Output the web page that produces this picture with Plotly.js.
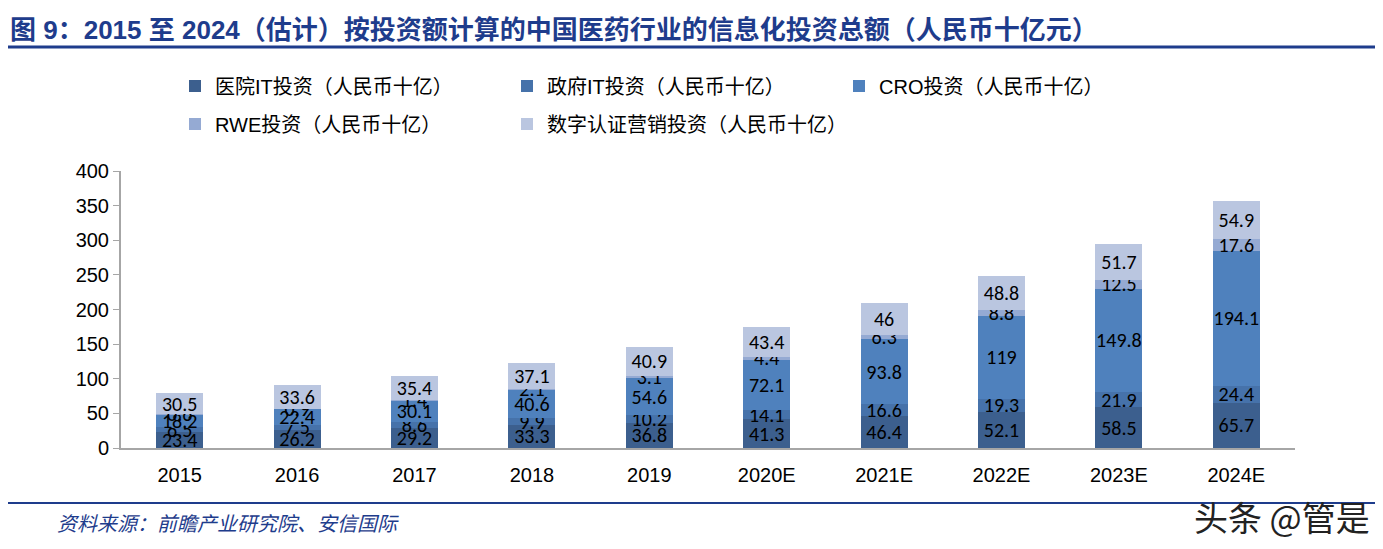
<!DOCTYPE html>
<html>
<head>
<meta charset="utf-8">
<script src="https://cdn.plot.ly/plotly-3.0.1.min.js"></script>
<style>html,body{margin:0;padding:0;background:#fff;}#chart{width:1383px;height:549px;}</style>
</head>
<body>
<div id="chart"></div>
<script>
const years = ['2015','2016','2017','2018','2019','2020E','2021E','2022E','2023E','2024E'];
const hospitalIT = [23.4, 26.2, 29.2, 33.3, 36.8, 41.3, 46.4, 52.1, 58.5, 65.7];
const governmentIT = [6.5, 7.5, 8.6, 9.9, 10.2, 14.1, 16.6, 19.3, 21.9, 24.4];
const cro = [18.2, 22.4, 30.1, 40.6, 54.6, 72.1, 93.8, 119, 149.8, 194.1];
const rwe = [0.6, 0.9, 1.4, 2.1, 3.1, 4.4, 6.3, 8.8, 12.5, 17.6];
const digitalMarketing = [30.5, 33.6, 35.4, 37.1, 40.9, 43.4, 46, 48.8, 51.7, 54.9];
const seriesNames = ['医院IT投资（人民币十亿）','政府IT投资（人民币十亿）','CRO投资（人民币十亿）','RWE投资（人民币十亿）','数字认证营销投资（人民币十亿）'];
const seriesValues = [hospitalIT, governmentIT, cro, rwe, digitalMarketing];
const colors = ['#3C5F8E','#4672AA','#4F81BD','#95AAD3','#BAC6E0'];
const legendOf = ['legend','legend','legend','legend2','legend2'];

const labelFont = {family:'Carlito, Lato, "Noto Sans", sans-serif', size:20, color:'#000'};
const traces = seriesValues.map((vals, i) => ({
  type:'bar', name:seriesNames[i], x:years, y:vals, legend:legendOf[i],
  marker:{color:colors[i]},
  text: vals.map(v => String(v)), textposition:'inside', insidetextanchor:'middle',
  constraintext:'none', textangle:0, textfont:labelFont, hoverinfo:'none', cliponaxis:false
}));

const L = 121, R = 1295, T = 171, B = 448;
const px = x => (x - L) / (R - L);
const py = y => (B - y) / (B - T);

const legendFont = {family:'"Liberation Sans", "Noto Sans CJK SC", sans-serif', size:20, color:'#000'};
const legendCommon = {orientation:'h', xref:'container', yref:'container', xanchor:'left', yanchor:'middle',
  entrywidth:287, entrywidthmode:'pixels', traceorder:'normal', itemwidth:30, font:legendFont,
  itemclick:false, itemdoubleclick:false, bgcolor:'rgba(0,0,0,0)'};

const layout = {
  width:1383, height:549,
  margin:{l:L, r:1383-R, t:T, b:549-B},
  paper_bgcolor:'#fff', plot_bgcolor:'#fff',
  barmode:'stack', bargap:0.6,
  showlegend:true,
  font:{family:'"Liberation Sans", Arial, "Noto Sans CJK SC", sans-serif', color:'#000'},
  title:{text:'图 9：2015 至 2024（估计）按投资额计算的中国医药行业的信息化投资总额（人民币十亿元）',
    xref:'container', yref:'container', x:10/1383, xanchor:'left', y:1-30/549, yanchor:'middle',
    font:{family:'"Liberation Sans", "Noto Sans CJK SC", sans-serif', size:26, color:'#1E3C8C', weight:'bold'}},
  legend:Object.assign({}, legendCommon, {x:175/1383, y:1-86/549}),
  legend2:Object.assign({}, legendCommon, {x:175/1383, y:1-124/549}),
  xaxis:{type:'category', showline:true, linecolor:'#A6A6A6', linewidth:2, ticks:'', showgrid:false,
    ticklabelstandoff:8,
    tickfont:{family:'"Liberation Sans", Arial, sans-serif', size:20, color:'#000'}, fixedrange:true},
  yaxis:{range:[0,400], dtick:50, showline:true, linecolor:'#A6A6A6', linewidth:2, ticks:'outside', ticklen:6, tickcolor:'#A6A6A6',
    showgrid:false, zeroline:false,
    tickfont:{family:'"Liberation Sans", Arial, sans-serif', size:20, color:'#000'}, fixedrange:true},
  shapes:[
    {type:'line', xref:'paper', yref:'paper', x0:px(8), x1:px(1375), y0:py(47), y1:py(47), line:{color:'#1E3C8C', width:3}},
    {type:'line', xref:'paper', yref:'paper', x0:px(8), x1:px(1375), y0:py(503), y1:py(503), line:{color:'#1E3C8C', width:2}}
  ],
  annotations:[
    {text:'<i>资料来源：前瞻产业研究院、安信国际</i>', xref:'paper', yref:'paper', x:px(55), xanchor:'left', y:py(522), yanchor:'middle', showarrow:false,
     font:{family:'"Noto Sans CJK SC", sans-serif', size:20, color:'#1E3C8C'}},
    {text:'头条 @管是', xref:'paper', yref:'paper', x:px(1372), xanchor:'right', y:py(516), yanchor:'middle', showarrow:false,
     font:{family:'"Noto Sans CJK SC", sans-serif', size:34, color:'#222'}}
  ]
};
Plotly.newPlot('chart', traces, layout, {displayModeBar:false, staticPlot:true});
</script>
</body>
</html>
